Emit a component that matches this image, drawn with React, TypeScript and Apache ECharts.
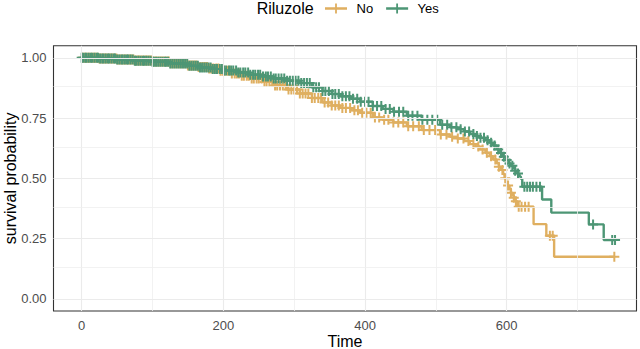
import React, { useEffect, useRef } from "react";
import * as echarts from "echarts";

// ---- data ----
const groupNames = ["No", "Yes"];

const noTimes = [0, 25, 50, 75, 100, 125, 150, 165, 180, 195, 210, 225, 240, 255, 270, 290, 308, 325, 340, 353, 365, 380, 393, 411, 425, 440, 459, 480, 506, 520, 530, 540, 548, 556, 562, 570, 576, 581, 586, 589, 592, 595, 597, 599, 601, 604, 606, 608, 610, 612, 615, 638, 656, 667];
const noSurv = [1, 0.997, 0.993, 0.989, 0.984, 0.977, 0.968, 0.962, 0.955, 0.946, 0.935, 0.925, 0.914, 0.9, 0.885, 0.868, 0.852, 0.833, 0.815, 0.802, 0.792, 0.782, 0.772, 0.752, 0.743, 0.732, 0.716, 0.7, 0.682, 0.672, 0.665, 0.655, 0.642, 0.632, 0.62, 0.606, 0.592, 0.578, 0.562, 0.548, 0.535, 0.518, 0.5, 0.485, 0.47, 0.455, 0.44, 0.43, 0.42, 0.405, 0.382, 0.31, 0.262, 0.175];
const noCensored = [1, 4, 6, 9, 11, 14, 17, 19, 22, 25, 27, 30, 33, 35, 38, 41, 43, 46, 49, 51, 54, 57, 60, 62, 65, 68, 70, 73, 76, 79, 81, 84, 87, 90, 92, 95, 98, 101, 104, 106, 109, 112, 115, 118, 121, 123, 126, 129, 132, 135, 138, 141, 144, 147, 150, 153, 156, 159, 162, 165, 168, 171, 174, 177, 180, 183, 186, 190, 193, 196, 199, 202, 206, 209, 212, 216, 219, 222, 226, 229, 233, 236, 240, 243, 247, 250, 254, 258, 261, 265, 269, 273, 276, 280, 284, 288, 292, 296, 300, 304, 308, 312, 316, 320, 325, 329, 334, 338, 343, 348, 353, 358, 363, 368, 373, 379, 385, 390, 396, 402, 408, 414, 420, 427, 433, 440, 447, 454, 461, 468, 476, 483, 491, 499, 507, 515, 523, 531, 539, 546, 553, 560, 566, 572, 578, 584, 589, 594, 598, 602, 606, 610, 613, 617, 621, 626, 631, 661, 665, 752];

const yesTimes = [0, 25, 50, 75, 100, 125, 150, 167, 185, 200, 220, 238, 255, 270, 290, 308, 325, 340, 353, 365, 380, 393, 411, 425, 440, 459, 480, 506, 520, 530, 540, 548, 556, 562, 570, 576, 581, 586, 591, 595, 599, 603, 606, 609, 612, 615, 618, 620, 622, 650, 663, 716, 737];
const yesSurv = [1, 0.997, 0.993, 0.988, 0.983, 0.976, 0.967, 0.96, 0.953, 0.947, 0.939, 0.93, 0.922, 0.914, 0.905, 0.895, 0.878, 0.862, 0.85, 0.84, 0.83, 0.818, 0.8, 0.788, 0.776, 0.76, 0.743, 0.722, 0.712, 0.704, 0.694, 0.684, 0.676, 0.668, 0.658, 0.648, 0.636, 0.62, 0.605, 0.59, 0.576, 0.562, 0.552, 0.542, 0.531, 0.52, 0.508, 0.498, 0.465, 0.412, 0.358, 0.309, 0.244];
const yesCensored = [0, 2, 5, 7, 10, 13, 15, 18, 21, 23, 26, 29, 31, 34, 37, 39, 42, 45, 47, 50, 53, 56, 58, 61, 64, 66, 69, 72, 75, 77, 80, 83, 86, 88, 91, 94, 97, 100, 102, 105, 108, 111, 114, 117, 119, 122, 125, 128, 131, 134, 137, 140, 143, 146, 149, 152, 155, 158, 161, 164, 167, 170, 173, 176, 179, 182, 185, 188, 191, 195, 198, 201, 204, 208, 211, 214, 218, 221, 224, 228, 231, 235, 238, 242, 245, 249, 252, 256, 260, 263, 267, 271, 274, 278, 282, 286, 290, 294, 298, 302, 306, 310, 314, 318, 322, 327, 331, 335, 340, 344, 349, 354, 358, 363, 368, 373, 378, 383, 389, 394, 400, 405, 411, 417, 423, 429, 435, 441, 448, 454, 461, 467, 474, 481, 488, 495, 502, 509, 516, 522, 529, 535, 541, 547, 553, 558, 563, 568, 573, 578, 583, 588, 592, 596, 600, 604, 608, 612, 616, 625, 629, 633, 637, 642, 647, 722, 749, 753];

const xTicks = [0, 200, 400, 600];
const xMinor = [100, 300, 500, 700];
const yTicks = [0, 0.25, 0.5, 0.75, 1];
const yMinor = [0.125, 0.375, 0.625, 0.875];

// ---- styles ----
const COLORS = ["#DFAF60", "#4D9675"];
const FONT = '"Liberation Sans", Arial, Helvetica, sans-serif';
const PLUS = "path://M4,0 H6 V4 H10 V6 H6 V10 H4 V6 H0 V4 H4 Z";
const LEGEND_ICON = "path://M0,3.8 H22 V6.2 H0 Z M10.1,0 H11.9 V10 H10.1 Z";

function survAt(times: number[], surv: number[], t: number) {
  let v = surv[0];
  for (let i = 0; i < times.length; i++) {
    if (times[i] <= t) v = surv[i];
    else break;
  }
  return v;
}

function lineData(times: number[], surv: number[], cens: number[]) {
  const pts = times.map((t, i) => [t, surv[i]]);
  const end = Math.max(times[times.length - 1], cens[cens.length - 1]);
  pts.push([end, surv[surv.length - 1]]);
  return pts;
}

export default function App() {
  const ref = useRef<HTMLDivElement>(null);

  useEffect(() => {
    if (!ref.current) return;
    document.body.style.margin = "0";
    const chart = echarts.init(ref.current, null, { renderer: "svg" });

    const groups = [
      { name: groupNames[0], times: noTimes, surv: noSurv, cens: noCensored, color: COLORS[0] },
      { name: groupNames[1], times: yesTimes, surv: yesSurv, cens: yesCensored, color: COLORS[1] },
    ];

    const gridLines = [
      ...xTicks.map((v) => ({ xAxis: v, lineStyle: { color: "#EBEBEB", width: 1.1 } })),
      ...xMinor.map((v) => ({ xAxis: v, lineStyle: { color: "#EFEFEF", width: 0.8 } })),
      ...yTicks.map((v) => ({ yAxis: v, lineStyle: { color: "#EBEBEB", width: 1.1 } })),
      ...yMinor.map((v) => ({ yAxis: v, lineStyle: { color: "#EFEFEF", width: 0.8 } })),
    ];

    const series: any[] = [];
    groups.forEach((g) => {
      series.push({
        name: g.name,
        type: "scatter",
        z: 4,
        symbol: PLUS,
        symbolSize: 10,
        itemStyle: { color: g.color, opacity: 1 },
        data: g.cens.map((t) => [t, survAt(g.times, g.surv, t)]),
        silent: true,
      });
    });
    groups.forEach((g) => {
      series.push({
        name: g.name,
        type: "line",
        z: 3,
        step: "end",
        showSymbol: false,
        symbol: "none",
        color: g.color,
        lineStyle: { color: g.color, width: 2.4 },
        data: lineData(g.times, g.surv, g.cens),
        silent: true,
      });
    });
    series.unshift({
      name: "_grid",
      type: "line",
      z: 1,
      data: [],
      silent: true,
      markLine: {
        silent: true,
        symbol: ["none", "none"],
        label: { show: false },
        lineStyle: { type: "solid" },
        emphasis: { disabled: true },
        data: gridLines,
      },
    });

    chart.setOption({
      animation: false,
      backgroundColor: "#ffffff",
      textStyle: { fontFamily: FONT },
      grid: {
        left: 53.5,
        right: 3.5,
        top: 45.7,
        bottom: 38,
        show: true,
        borderColor: "#333333",
        borderWidth: 1.1,
        backgroundColor: "transparent",
        outerBoundsMode: "none",
      },
      legend: {
        data: groups.map((g) => ({ name: g.name, icon: LEGEND_ICON })),
        left: 325,
        top: 2,
        padding: 0,
        itemWidth: 22,
        itemHeight: 10,
        itemGap: 13,
        selectedMode: false,
        textStyle: { fontSize: 13, color: "#000000", fontFamily: FONT, padding: [0, 0, 0, 4.5] },
      },
      xAxis: {
        type: "value",
        min: -39.8,
        max: 783.3,
        axisLine: { show: false },
        splitLine: { show: false },
        axisTick: { show: true, length: 4, customValues: xTicks, lineStyle: { color: "#333333", width: 1 } },
        axisLabel: { customValues: xTicks, margin: 8, color: "#4D4D4D", fontSize: 13, fontFamily: FONT },
      },
      yAxis: {
        type: "value",
        min: -0.05,
        max: 1.05,
        axisLine: { show: false },
        splitLine: { show: false },
        axisTick: { show: true, length: 4, customValues: yTicks, lineStyle: { color: "#333333", width: 1 } },
        axisLabel: {
          customValues: yTicks,
          margin: 7,
          color: "#4D4D4D",
          fontSize: 13,
          fontFamily: FONT,
          formatter: (v: number) => v.toFixed(2),
        },
      },
      graphic: [
        {
          type: "text",
          x: 10.5,
          y: 178.4,
          rotation: Math.PI / 2,
          style: { text: "survival probability", fill: "#000000", fontSize: 16, fontFamily: FONT, align: "center", verticalAlign: "middle" },
        },
        {
          type: "text",
          x: 345,
          y: 341,
          style: { text: "Time", fill: "#000000", fontSize: 16, fontFamily: FONT, align: "center", verticalAlign: "middle" },
        },
        {
          type: "text",
          x: 256.7,
          y: 8.5,
          style: { text: "Riluzole", fill: "#000000", fontSize: 16, fontFamily: FONT, align: "left", verticalAlign: "middle" },
        },
      ],
      series,
    });

    return () => chart.dispose();
  }, []);

  return <div ref={ref} style={{ position: "absolute", left: 0, top: 0, width: 640, height: 349 }} />;
}
